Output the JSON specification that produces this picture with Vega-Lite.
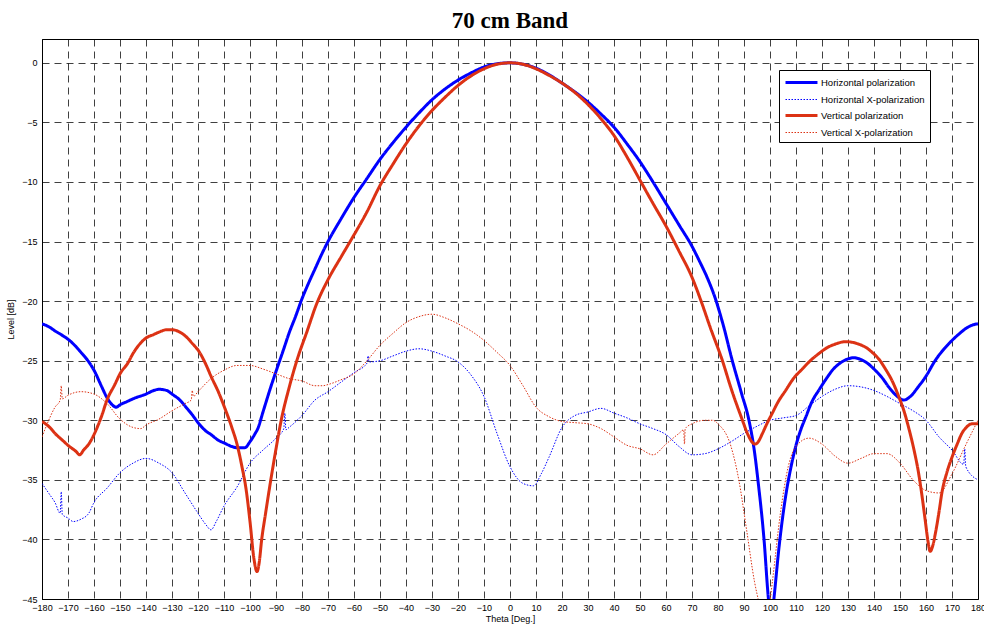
{
  "$schema": "https://vega.github.io/schema/vega-lite/v6.json",
  "autosize": {"type": "none"},
  "width": 936,
  "height": 560,
  "padding": {"left": 42, "top": 39, "right": 6, "bottom": 26},
  "background": "white",
  "title": {"text": "70 cm Band", "font": "Liberation Serif", "fontSize": 23, "fontWeight": "bold", "color": "black", "anchor": "middle", "offset": 6},
  "config": {
    "view": {"stroke": "black", "strokeWidth": 1},
    "axis": {"labelFont": "Liberation Sans", "labelFontSize": 9, "labelColor": "black", "titleFont": "Liberation Sans", "titleFontSize": 9, "titleFontWeight": "normal", "titleColor": "black", "domainColor": "black", "domainWidth": 1, "grid": true, "gridColor": "black", "gridDash": [7, 5], "gridOpacity": 0.75, "gridWidth": 1, "ticks": false, "labelPadding": 3, "labelOverlap": false, "labelFlush": false}
  },
  "data": {"values": [
    {"s":"H","t":-180,"v":-21.9},{"s":"H","t":-177,"v":-22.2},{"s":"H","t":-175,"v":-22.5},{"s":"H","t":-172,"v":-22.9},{"s":"H","t":-170,"v":-23.2},{"s":"H","t":-167,"v":-23.8},{"s":"H","t":-165,"v":-24.3},{"s":"H","t":-162,"v":-25.1},{"s":"H","t":-160,"v":-25.8},{"s":"H","t":-157,"v":-27.2},{"s":"H","t":-155,"v":-28.1},{"s":"H","t":-153,"v":-28.7},{"s":"H","t":-151.5,"v":-28.9},{"s":"H","t":-150,"v":-28.7},{"s":"H","t":-147,"v":-28.4},{"s":"H","t":-145,"v":-28.2},{"s":"H","t":-140,"v":-27.8},{"s":"H","t":-137,"v":-27.5},{"s":"H","t":-135,"v":-27.4},{"s":"H","t":-132,"v":-27.5},{"s":"H","t":-130,"v":-27.8},{"s":"H","t":-127,"v":-28.3},{"s":"H","t":-125,"v":-28.8},{"s":"H","t":-122,"v":-29.6},{"s":"H","t":-120,"v":-30.2},{"s":"H","t":-117,"v":-30.9},{"s":"H","t":-115,"v":-31.2},{"s":"H","t":-112,"v":-31.7},{"s":"H","t":-110,"v":-31.9},{"s":"H","t":-107,"v":-32.2},{"s":"H","t":-105,"v":-32.3},{"s":"H","t":-102,"v":-32.3},{"s":"H","t":-100,"v":-31.8},{"s":"H","t":-98,"v":-31.1},{"s":"H","t":-97,"v":-30.7},{"s":"H","t":-95,"v":-29.3},{"s":"H","t":-92,"v":-27.2},{"s":"H","t":-90,"v":-25.9},{"s":"H","t":-87,"v":-24.0},{"s":"H","t":-85,"v":-22.7},{"s":"H","t":-82.5,"v":-21.3},{"s":"H","t":-80,"v":-19.8},{"s":"H","t":-77.5,"v":-18.5},{"s":"H","t":-75,"v":-17.3},{"s":"H","t":-72.5,"v":-16.1},{"s":"H","t":-70,"v":-15.0},{"s":"H","t":-65,"v":-13.1},{"s":"H","t":-60,"v":-11.3},{"s":"H","t":-55,"v":-9.7},{"s":"H","t":-50,"v":-8.1},{"s":"H","t":-45,"v":-6.7},{"s":"H","t":-40,"v":-5.4},{"s":"H","t":-35,"v":-4.2},{"s":"H","t":-30,"v":-3.1},{"s":"H","t":-25,"v":-2.2},{"s":"H","t":-20,"v":-1.45},{"s":"H","t":-15,"v":-0.85},{"s":"H","t":-10,"v":-0.35},{"s":"H","t":-5,"v":-0.08},{"s":"H","t":0,"v":0},{"s":"H","t":5,"v":-0.12},{"s":"H","t":10,"v":-0.45},{"s":"H","t":15,"v":-1.0},{"s":"H","t":20,"v":-1.7},{"s":"H","t":25,"v":-2.45},{"s":"H","t":30,"v":-3.3},{"s":"H","t":35,"v":-4.3},{"s":"H","t":40,"v":-5.4},{"s":"H","t":45,"v":-6.8},{"s":"H","t":50,"v":-8.3},{"s":"H","t":55,"v":-10.0},{"s":"H","t":60,"v":-11.8},{"s":"H","t":65,"v":-13.6},{"s":"H","t":70,"v":-15.4},{"s":"H","t":73,"v":-16.7},{"s":"H","t":76,"v":-18.1},{"s":"H","t":79,"v":-19.8},{"s":"H","t":82,"v":-22.0},{"s":"H","t":85.5,"v":-25.0},{"s":"H","t":89,"v":-27.7},{"s":"H","t":92,"v":-30.1},{"s":"H","t":94,"v":-32.6},{"s":"H","t":95.5,"v":-35.3},{"s":"H","t":97.7,"v":-40},{"s":"H","t":99.4,"v":-45},{"s":"H","t":100.5,"v":-47},{"s":"H","t":101.5,"v":-45},{"s":"H","t":103.5,"v":-40.6},{"s":"H","t":106,"v":-36.4},{"s":"H","t":108,"v":-34.0},{"s":"H","t":110,"v":-32.1},{"s":"H","t":112,"v":-30.7},{"s":"H","t":114,"v":-29.6},{"s":"H","t":116,"v":-28.5},{"s":"H","t":119,"v":-27.4},{"s":"H","t":122,"v":-26.4},{"s":"H","t":124,"v":-25.8},{"s":"H","t":127,"v":-25.2},{"s":"H","t":130,"v":-24.85},{"s":"H","t":132,"v":-24.75},{"s":"H","t":135,"v":-24.9},{"s":"H","t":138,"v":-25.3},{"s":"H","t":140,"v":-25.7},{"s":"H","t":143,"v":-26.4},{"s":"H","t":146,"v":-27.3},{"s":"H","t":149,"v":-28.0},{"s":"H","t":151.5,"v":-28.3},{"s":"H","t":154,"v":-28.0},{"s":"H","t":157,"v":-27.2},{"s":"H","t":160,"v":-26.3},{"s":"H","t":163.5,"v":-25.0},{"s":"H","t":167,"v":-24.0},{"s":"H","t":170,"v":-23.3},{"s":"H","t":173,"v":-22.7},{"s":"H","t":176,"v":-22.2},{"s":"H","t":178,"v":-22.0},{"s":"H","t":180,"v":-21.9},

    {"s":"HX","t":-180,"v":-35.3},{"s":"HX","t":-177,"v":-36.25},{"s":"HX","t":-175,"v":-36.9},{"s":"HX","t":-173,"v":-37.8},{"s":"HX","t":-172.6,"v":-36.0},{"s":"HX","t":-172.2,"v":-37.9},{"s":"HX","t":-170,"v":-38.2},{"s":"HX","t":-168,"v":-38.5},{"s":"HX","t":-165,"v":-38.3},{"s":"HX","t":-162,"v":-37.8},{"s":"HX","t":-160,"v":-36.9},{"s":"HX","t":-155,"v":-35.7},{"s":"HX","t":-150,"v":-34.4},{"s":"HX","t":-145,"v":-33.6},{"s":"HX","t":-140,"v":-33.2},{"s":"HX","t":-135,"v":-33.6},{"s":"HX","t":-130,"v":-34.4},{"s":"HX","t":-125,"v":-36.1},{"s":"HX","t":-120,"v":-37.8},{"s":"HX","t":-117,"v":-38.75},{"s":"HX","t":-115,"v":-39.2},{"s":"HX","t":-113,"v":-38.5},{"s":"HX","t":-110,"v":-37.2},{"s":"HX","t":-105,"v":-35.6},{"s":"HX","t":-100,"v":-33.6},{"s":"HX","t":-95,"v":-32.5},{"s":"HX","t":-90,"v":-31.5},{"s":"HX","t":-87,"v":-30.7},{"s":"HX","t":-86.6,"v":-29.4},{"s":"HX","t":-86.2,"v":-30.8},{"s":"HX","t":-85,"v":-30.6},{"s":"HX","t":-80,"v":-29.6},{"s":"HX","t":-75,"v":-28.3},{"s":"HX","t":-70,"v":-27.6},{"s":"HX","t":-65,"v":-26.8},{"s":"HX","t":-60,"v":-26.0},{"s":"HX","t":-55,"v":-25.2},{"s":"HX","t":-54.6,"v":-24.6},{"s":"HX","t":-54.2,"v":-25.1},{"s":"HX","t":-50,"v":-25.0},{"s":"HX","t":-45,"v":-24.6},{"s":"HX","t":-40,"v":-24.2},{"s":"HX","t":-35,"v":-24.0},{"s":"HX","t":-30,"v":-24.2},{"s":"HX","t":-25,"v":-24.6},{"s":"HX","t":-20,"v":-25.1},{"s":"HX","t":-15,"v":-26.2},{"s":"HX","t":-10,"v":-28.0},{"s":"HX","t":-5,"v":-31.1},{"s":"HX","t":0,"v":-33.9},{"s":"HX","t":5,"v":-35.3},{"s":"HX","t":9,"v":-35.5},{"s":"HX","t":12,"v":-34.5},{"s":"HX","t":15,"v":-33.1},{"s":"HX","t":20,"v":-30.6},{"s":"HX","t":25,"v":-29.6},{"s":"HX","t":30,"v":-29.3},{"s":"HX","t":35,"v":-29.0},{"s":"HX","t":40,"v":-29.4},{"s":"HX","t":45,"v":-29.8},{"s":"HX","t":50,"v":-30.3},{"s":"HX","t":55,"v":-30.7},{"s":"HX","t":60,"v":-31.2},{"s":"HX","t":65,"v":-32.2},{"s":"HX","t":70,"v":-32.9},{"s":"HX","t":75,"v":-32.8},{"s":"HX","t":80,"v":-32.4},{"s":"HX","t":85,"v":-31.8},{"s":"HX","t":90,"v":-31.1},{"s":"HX","t":95,"v":-30.5},{"s":"HX","t":100,"v":-30.0},{"s":"HX","t":105,"v":-29.8},{"s":"HX","t":110,"v":-29.6},{"s":"HX","t":115,"v":-28.8},{"s":"HX","t":120,"v":-28.0},{"s":"HX","t":125,"v":-27.4},{"s":"HX","t":130,"v":-27.1},{"s":"HX","t":135,"v":-27.2},{"s":"HX","t":140,"v":-27.5},{"s":"HX","t":145,"v":-28.0},{"s":"HX","t":150,"v":-28.6},{"s":"HX","t":155,"v":-29.2},{"s":"HX","t":160,"v":-30.0},{"s":"HX","t":165,"v":-31.4},{"s":"HX","t":170,"v":-32.5},{"s":"HX","t":174.5,"v":-33.7},{"s":"HX","t":174.9,"v":-32.4},{"s":"HX","t":175.3,"v":-33.9},{"s":"HX","t":180,"v":-35.0},

    {"s":"V","t":-180,"v":-30.1},{"s":"V","t":-177,"v":-30.6},{"s":"V","t":-175,"v":-31.1},{"s":"V","t":-172,"v":-31.7},{"s":"V","t":-170,"v":-32.1},{"s":"V","t":-167,"v":-32.6},{"s":"V","t":-165.5,"v":-32.9},{"s":"V","t":-164,"v":-32.5},{"s":"V","t":-162,"v":-32.0},{"s":"V","t":-160,"v":-31.2},{"s":"V","t":-157,"v":-29.6},{"s":"V","t":-155,"v":-28.3},{"s":"V","t":-152,"v":-27.0},{"s":"V","t":-150,"v":-26.1},{"s":"V","t":-147,"v":-25.2},{"s":"V","t":-145,"v":-24.4},{"s":"V","t":-142,"v":-23.5},{"s":"V","t":-140,"v":-23.1},{"s":"V","t":-137,"v":-22.8},{"s":"V","t":-135,"v":-22.6},{"s":"V","t":-132,"v":-22.4},{"s":"V","t":-130,"v":-22.4},{"s":"V","t":-127,"v":-22.6},{"s":"V","t":-125,"v":-22.9},{"s":"V","t":-122,"v":-23.6},{"s":"V","t":-120,"v":-24.1},{"s":"V","t":-117,"v":-25.3},{"s":"V","t":-115,"v":-26.3},{"s":"V","t":-112,"v":-27.7},{"s":"V","t":-110,"v":-28.8},{"s":"V","t":-107,"v":-30.6},{"s":"V","t":-105,"v":-32.0},{"s":"V","t":-103,"v":-34.0},{"s":"V","t":-101.5,"v":-35.8},{"s":"V","t":-100,"v":-38.5},{"s":"V","t":-98.5,"v":-41.6},{"s":"V","t":-97.3,"v":-42.7},{"s":"V","t":-96.5,"v":-42.0},{"s":"V","t":-95.5,"v":-40.0},{"s":"V","t":-94,"v":-37.8},{"s":"V","t":-92,"v":-35.0},{"s":"V","t":-90,"v":-32.4},{"s":"V","t":-88,"v":-30.0},{"s":"V","t":-85,"v":-27.3},{"s":"V","t":-82,"v":-25.0},{"s":"V","t":-78,"v":-22.5},{"s":"V","t":-74.5,"v":-20.3},{"s":"V","t":-70,"v":-18.2},{"s":"V","t":-65,"v":-16.3},{"s":"V","t":-61.5,"v":-15.0},{"s":"V","t":-55,"v":-12.5},{"s":"V","t":-50,"v":-10.3},{"s":"V","t":-45,"v":-8.5},{"s":"V","t":-40,"v":-6.8},{"s":"V","t":-35,"v":-5.3},{"s":"V","t":-30,"v":-4.0},{"s":"V","t":-25,"v":-2.9},{"s":"V","t":-20,"v":-1.9},{"s":"V","t":-15,"v":-1.1},{"s":"V","t":-10,"v":-0.5},{"s":"V","t":-5,"v":-0.12},{"s":"V","t":0,"v":0},{"s":"V","t":5,"v":-0.12},{"s":"V","t":10,"v":-0.5},{"s":"V","t":15,"v":-1.05},{"s":"V","t":20,"v":-1.7},{"s":"V","t":25,"v":-2.5},{"s":"V","t":30,"v":-3.5},{"s":"V","t":35,"v":-4.7},{"s":"V","t":40,"v":-6.1},{"s":"V","t":45,"v":-7.9},{"s":"V","t":50,"v":-9.85},{"s":"V","t":55,"v":-11.8},{"s":"V","t":60,"v":-13.7},{"s":"V","t":65,"v":-15.8},{"s":"V","t":70,"v":-18.0},{"s":"V","t":73.5,"v":-20.0},{"s":"V","t":77,"v":-22.2},{"s":"V","t":81.7,"v":-25.0},{"s":"V","t":85,"v":-27.3},{"s":"V","t":89.4,"v":-30.0},{"s":"V","t":91.5,"v":-31.2},{"s":"V","t":93,"v":-31.8},{"s":"V","t":94.2,"v":-32.0},{"s":"V","t":95.5,"v":-31.8},{"s":"V","t":97.1,"v":-31.1},{"s":"V","t":99,"v":-30.2},{"s":"V","t":100.9,"v":-29.4},{"s":"V","t":103,"v":-28.5},{"s":"V","t":106,"v":-27.5},{"s":"V","t":109,"v":-26.5},{"s":"V","t":112.4,"v":-25.7},{"s":"V","t":115.5,"v":-25.0},{"s":"V","t":118.8,"v":-24.4},{"s":"V","t":122,"v":-23.9},{"s":"V","t":125.2,"v":-23.6},{"s":"V","t":129,"v":-23.4},{"s":"V","t":131.5,"v":-23.45},{"s":"V","t":134,"v":-23.6},{"s":"V","t":137,"v":-23.9},{"s":"V","t":139.3,"v":-24.3},{"s":"V","t":142,"v":-24.9},{"s":"V","t":144.4,"v":-25.7},{"s":"V","t":147,"v":-26.7},{"s":"V","t":149.5,"v":-28.0},{"s":"V","t":151.5,"v":-29.2},{"s":"V","t":153.3,"v":-30.6},{"s":"V","t":155.3,"v":-32.4},{"s":"V","t":157.2,"v":-34.5},{"s":"V","t":158.5,"v":-36.4},{"s":"V","t":159.7,"v":-38.4},{"s":"V","t":160.8,"v":-40.2},{"s":"V","t":161.6,"v":-41.0},{"s":"V","t":162.5,"v":-40.6},{"s":"V","t":163.6,"v":-39.5},{"s":"V","t":165,"v":-37.7},{"s":"V","t":166.1,"v":-36.1},{"s":"V","t":168,"v":-34.4},{"s":"V","t":170,"v":-33.1},{"s":"V","t":172,"v":-32.0},{"s":"V","t":173.8,"v":-31.1},{"s":"V","t":175.5,"v":-30.6},{"s":"V","t":177.6,"v":-30.3},{"s":"V","t":180,"v":-30.3},

    {"s":"VX","t":-180,"v":-31.4},{"s":"VX","t":-178,"v":-30.3},{"s":"VX","t":-175,"v":-28.9},{"s":"VX","t":-173,"v":-28.3},{"s":"VX","t":-172.6,"v":-27.1},{"s":"VX","t":-172.2,"v":-28.2},{"s":"VX","t":-170,"v":-27.9},{"s":"VX","t":-165,"v":-27.6},{"s":"VX","t":-160,"v":-27.8},{"s":"VX","t":-155,"v":-28.6},{"s":"VX","t":-150,"v":-29.9},{"s":"VX","t":-145,"v":-30.6},{"s":"VX","t":-142,"v":-30.7},{"s":"VX","t":-140,"v":-30.4},{"s":"VX","t":-135,"v":-29.9},{"s":"VX","t":-130,"v":-29.2},{"s":"VX","t":-125,"v":-28.6},{"s":"VX","t":-122.6,"v":-28.3},{"s":"VX","t":-122.2,"v":-27.5},{"s":"VX","t":-121.8,"v":-28.0},{"s":"VX","t":-120,"v":-27.6},{"s":"VX","t":-115,"v":-26.5},{"s":"VX","t":-110,"v":-25.8},{"s":"VX","t":-105,"v":-25.4},{"s":"VX","t":-100,"v":-25.4},{"s":"VX","t":-95,"v":-25.7},{"s":"VX","t":-90,"v":-26.1},{"s":"VX","t":-85,"v":-26.5},{"s":"VX","t":-80,"v":-26.7},{"s":"VX","t":-75,"v":-27.1},{"s":"VX","t":-72,"v":-27.1},{"s":"VX","t":-70,"v":-27.0},{"s":"VX","t":-65,"v":-26.6},{"s":"VX","t":-60,"v":-26.1},{"s":"VX","t":-55,"v":-25.0},{"s":"VX","t":-50,"v":-23.7},{"s":"VX","t":-45,"v":-22.7},{"s":"VX","t":-40,"v":-21.8},{"s":"VX","t":-35,"v":-21.3},{"s":"VX","t":-30,"v":-21.1},{"s":"VX","t":-25,"v":-21.4},{"s":"VX","t":-20,"v":-21.9},{"s":"VX","t":-15,"v":-22.5},{"s":"VX","t":-10,"v":-23.3},{"s":"VX","t":-5,"v":-24.3},{"s":"VX","t":0,"v":-25.4},{"s":"VX","t":5,"v":-27.1},{"s":"VX","t":10,"v":-28.9},{"s":"VX","t":15,"v":-29.7},{"s":"VX","t":20,"v":-30.1},{"s":"VX","t":25,"v":-30.2},{"s":"VX","t":30,"v":-30.3},{"s":"VX","t":35,"v":-30.7},{"s":"VX","t":40,"v":-31.4},{"s":"VX","t":45,"v":-32.1},{"s":"VX","t":50,"v":-32.4},{"s":"VX","t":55,"v":-32.9},{"s":"VX","t":60,"v":-32.0},{"s":"VX","t":65,"v":-31.1},{"s":"VX","t":66.8,"v":-30.8},{"s":"VX","t":67.1,"v":-32.0},{"s":"VX","t":67.4,"v":-30.7},{"s":"VX","t":70,"v":-30.3},{"s":"VX","t":75,"v":-30.0},{"s":"VX","t":78,"v":-30.0},{"s":"VX","t":80,"v":-30.3},{"s":"VX","t":85,"v":-32.2},{"s":"VX","t":88,"v":-35.0},{"s":"VX","t":91,"v":-39.2},{"s":"VX","t":94,"v":-43.5},{"s":"VX","t":96,"v":-45.5},{"s":"VX","t":98,"v":-47},{"s":"VX","t":99.8,"v":-45.5},{"s":"VX","t":101,"v":-43.4},{"s":"VX","t":104,"v":-37.8},{"s":"VX","t":107,"v":-33.9},{"s":"VX","t":110,"v":-32.2},{"s":"VX","t":115,"v":-31.5},{"s":"VX","t":120,"v":-32.0},{"s":"VX","t":125,"v":-33.0},{"s":"VX","t":130,"v":-33.6},{"s":"VX","t":135,"v":-33.2},{"s":"VX","t":140,"v":-32.8},{"s":"VX","t":145,"v":-32.8},{"s":"VX","t":150,"v":-33.6},{"s":"VX","t":155,"v":-35.0},{"s":"VX","t":160,"v":-35.9},{"s":"VX","t":165,"v":-36.1},{"s":"VX","t":170,"v":-34.5},{"s":"VX","t":175,"v":-32.2},{"s":"VX","t":180,"v":-30.0}
  ]},
  "mark": {"type": "line", "clip": true, "strokeCap": "butt", "strokeJoin": "round", "interpolate": "monotone"},
  "encoding": {
    "x": {"field": "t", "type": "quantitative", "scale": {"domain": [-180, 180], "nice": false, "zero": false},
      "axis": {"title": "Theta [Deg.]", "values": [-180,-170,-160,-150,-140,-130,-120,-110,-100,-90,-80,-70,-60,-50,-40,-30,-20,-10,0,10,20,30,40,50,60,70,80,90,100,110,120,130,140,150,160,170,180], "titlePadding": 2, "labelPadding": 4}},
    "y": {"field": "v", "type": "quantitative", "scale": {"domain": [-45, 2], "nice": false, "zero": false},
      "axis": {"title": "Level [dB]", "values": [-45,-40,-35,-30,-25,-20,-15,-10,-5,0], "titlePadding": 6, "labelPadding": 5}},
    "color": {"field": "s", "type": "nominal", "scale": {"domain": ["H","HX","V","VX"], "range": ["#0000ff","#0000ff","#dc3214","#dc3214"]},
      "legend": {"orient": "none", "legendX": 737, "legendY": 31, "title": null, "symbolType": "M-1,0H4.33", "symbolSize": 144, "labelFont": "Liberation Sans", "labelFontSize": 9.5, "labelColor": "black", "padding": 5, "strokeColor": "black", "fillColor": "white", "rowPadding": 4, "labelOffset": 22,
        "labelExpr": "{'H':'Horizontal polarization','HX':'Horizontal X-polarization','V':'Vertical polarization','VX':'Vertical X-polarization'}[datum.label] + '\u00a0\u00a0\u00a0\u00a0\u00a0\u00a0'"}},
    "strokeDash": {"field": "s", "type": "nominal", "scale": {"domain": ["H","HX","V","VX"], "range": [[1,0],[1.5,1.5],[1,0],[1.5,1.5]]}},
    "strokeWidth": {"field": "s", "type": "nominal", "scale": {"type": "ordinal", "domain": ["H","HX","V","VX"], "range": [3,1,3,1]}}
  }
}
